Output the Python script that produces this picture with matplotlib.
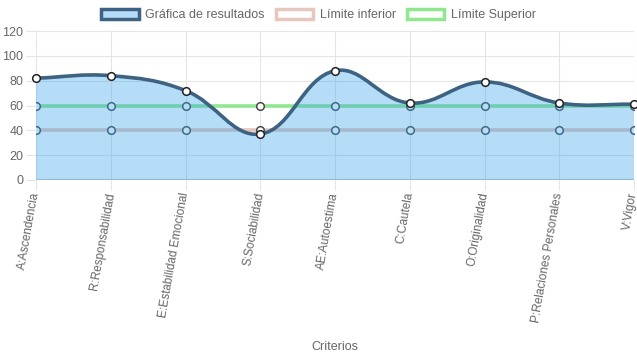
import numpy as np
import matplotlib
matplotlib.use("Agg")
import matplotlib.pyplot as plt
from matplotlib.path import Path
from matplotlib.patches import PathPatch, Patch

categories = ["A:Ascendencia", "R:Responsabilidad", "E:Estabilidad Emocional",
              "S:Sociabilidad", "AE:Autoestima", "C:Cautela", "O:Originalidad",
              "P:Relaciones Personales", "V:Vigor"]
resultados = [82, 84, 72, 37, 88, 62, 79, 62, 61]
limite_inferior = [40, 40, 40, 40, 40, 40, 40, 40, 40]
limite_superior = [60, 60, 60, 60, 60, 60, 60, 60, 60]
y_ticks = [0, 20, 40, 60, 80, 100, 120]

plt.rcParams['font.family'] = ['Liberation Sans', 'DejaVu Sans']

W, H = 637, 359
fig = plt.figure(figsize=(W / 100, H / 100), dpi=100)
L, R, T, B = 36, 634, 31, 180
ax = fig.add_axes([L / W, 1 - B / H, (R - L) / W, (B - T) / H])

n = len(categories)
x = np.arange(n)
ax.set_xlim(0, n - 1)
ax.set_ylim(0, 120)

# Chart.js-style spline (tension 0.4) computed in pixel-like units
sx = (R - L) / (n - 1)
sy = (B - T) / 120.0
px = x * sx
py = np.array(resultados, float) * sy
tension = 0.4
cp_prev = np.zeros((n, 2))
cp_next = np.zeros((n, 2))
for i in range(n):
    cur = np.array([px[i], py[i]])
    prv = np.array([px[i - 1], py[i - 1]]) if i > 0 else cur
    nxt = np.array([px[i + 1], py[i + 1]]) if i < n - 1 else cur
    d01 = np.hypot(*(cur - prv))
    d12 = np.hypot(*(nxt - cur))
    tot = d01 + d12
    s01 = d01 / tot if tot else 0
    s12 = d12 / tot if tot else 0
    cp_prev[i] = cur - tension * s01 * (nxt - prv)
    cp_next[i] = cur + tension * s12 * (nxt - prv)

def to_data(p):
    return (p[0] / sx, p[1] / sy)

verts = [to_data((px[0], py[0]))]
codes = [Path.MOVETO]
for i in range(n - 1):
    verts += [to_data(cp_next[i]), to_data(cp_prev[i + 1]), to_data((px[i + 1], py[i + 1]))]
    codes += [Path.CURVE4] * 3
line_path = Path(verts, codes)
fill_verts = verts + [(x[-1], 0), (x[0], 0), (x[0], 0)]
fill_codes = codes + [Path.LINETO, Path.LINETO, Path.CLOSEPOLY]
fill_path = Path(fill_verts, fill_codes)

# grid
grid_col = '#e5e5e5'
ax.set_xticks(x)
ax.set_yticks(y_ticks)
ax.grid(True, color=grid_col, linewidth=0.8, zorder=0)
ax.set_axisbelow(True)
for s in ax.spines.values():
    s.set_visible(False)
ax.axhline(0, color='#c8c8c8', linewidth=1.6, zorder=1)
ax.tick_params(axis='both', length=7, width=0.8, color=grid_col,
               labelcolor='#666666', labelsize=9, pad=2)
ax.set_xticklabels(categories, rotation=80, ha='right', va='center',
                   rotation_mode='anchor')
for lbl in ax.get_xticklabels():
    lbl.set_fontsize(8.5)

low_col = (0.90, 0.78, 0.74)
up_col = (0.56, 0.91, 0.56)
res_edge = '#3d6282'
res_fill = (54 / 255, 162 / 255, 235 / 255, 0.36)
mk_edge = '#4a4a4a'

ax.plot(x, limite_superior, color=up_col, lw=2.6, zorder=2,
        marker='o', ms=5.5, mfc='white', mec=mk_edge, mew=1.1)
ax.plot(x, limite_inferior, color=low_col, lw=2.6, zorder=2,
        marker='o', ms=5.5, mfc='white', mec=mk_edge, mew=1.1)
ax.add_patch(PathPatch(fill_path, facecolor=res_fill, edgecolor='none', zorder=3))
ax.add_patch(PathPatch(line_path, facecolor='none', edgecolor=res_edge, lw=2.6,
                       zorder=4, capstyle='round'))
ax.plot(x, resultados, linestyle='none', marker='o', ms=5.5, mfc='white',
        mec='#222222', mew=1.1, zorder=5, clip_on=False)

fig.text((L + R) / 2 / W, 1 - 347 / H, "Criterios", ha='center', va='center',
         color='#666666', fontsize=9)

handles = [Patch(facecolor=res_fill, edgecolor=res_edge, lw=2.5),
           Patch(facecolor='white', edgecolor=low_col, lw=2.5),
           Patch(facecolor='white', edgecolor=up_col, lw=2.5)]
leg = fig.legend(handles, ["Gráfica de resultados", "Límite inferior", "Límite Superior"],
                 loc='center', bbox_to_anchor=(0.5, 1 - 15 / H), ncol=3, frameon=False,
                 fontsize=9, handlelength=3.0, handleheight=0.9, handletextpad=0.5,
                 columnspacing=0.9, borderaxespad=0)
for t in leg.get_texts():
    t.set_color('#666666')

fig.savefig("out.png", dpi=100)
